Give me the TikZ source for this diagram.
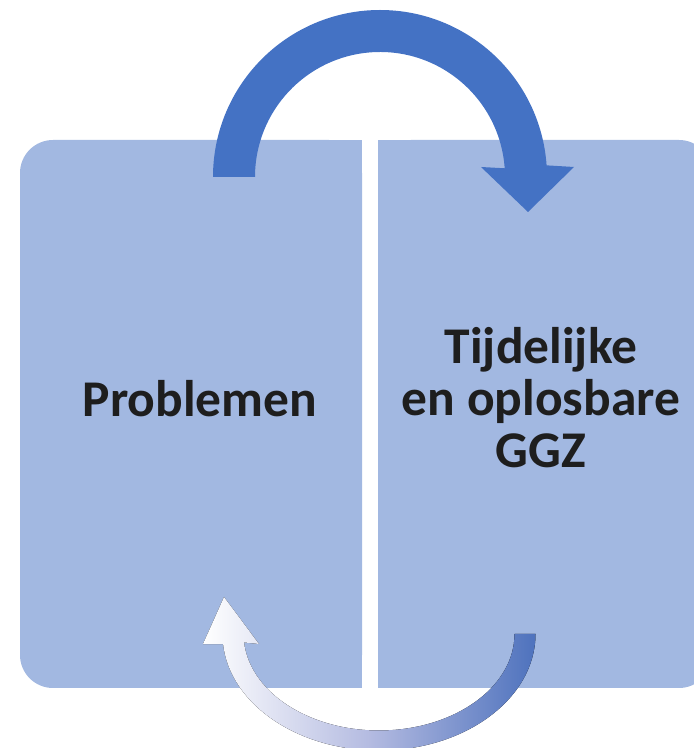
\documentclass[tikz,border=0pt]{standalone}
\usepackage{fontspec}
\setmainfont{Carlito}
\usetikzlibrary{calc}
\definecolor{boxfill}{HTML}{A2B8E1}
\definecolor{loopblue}{HTML}{4472C4}
\definecolor{fadeblue}{HTML}{4E72BD}
\definecolor{fademid}{HTML}{B4BBE1}
\definecolor{ink}{HTML}{1E1E1E}
\tikzset{
  panel/.style={fill=boxfill},
  bigarrow/.style={fill=loopblue},
  backarrow/.style={left color=white, right color=fadeblue, middle color=fademid},
  lab/.style={text=ink, font=\fontsize{51.5}{52}\selectfont\bfseries, inner sep=0pt},
}

\begin{document}
\begin{tikzpicture}[x=1pt,y=1pt]
  \useasboundingbox (0,0) rectangle (694,748);
  % panels
  \fill[panel, rounded corners=33pt] (20,60) rectangle (362,608);
  \fill[panel] (300,60) rectangle (362,608);
  \fill[panel, rounded corners=33pt] (378,60) rectangle (712,608);
  \fill[panel] (378,60) rectangle (440,608);

  % top arrow
  \coordinate (topc) at (380,571);
  \fill[bigarrow] ($(topc)+(180:167)$) arc[start angle=180, end angle=4, radius=167pt]
    -- (574,581) -- (528,536) -- (481,581)
    -- ($(topc)+(4:125)$) arc[start angle=4, end angle=180, radius=125pt] -- cycle;

  % bottom arrow
  \coordinate (botc) at (379,114);
  \fill[backarrow] ($(botc)+(0:156.5 and 116.5)$)
    arc[start angle=0, end angle=-175, x radius=156.5pt, y radius=116.5pt]
    -- (203,104) -- (224,151) -- (259,104)
    -- ($(botc)+(-175:135.5 and 96.5)$)
    arc[start angle=-175, end angle=0, x radius=135.5pt, y radius=96.5pt] -- cycle;

  \node[lab, anchor=base] (problemen) at (200,331) {Problemen};
  \node[lab, align=center] (ggz) at (541,350) {Tijdelijke\\en oplosbare\\GGZ};
\end{tikzpicture}
\end{document}
